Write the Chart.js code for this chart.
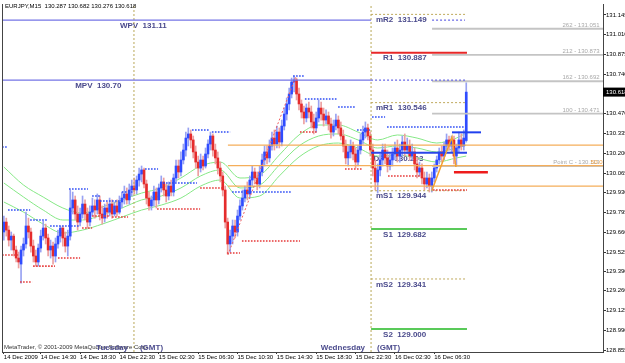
<!DOCTYPE html>
<html><head><meta charset="utf-8">
<script src="https://cdn.jsdelivr.net/npm/chart.js@4.4.0/dist/chart.umd.min.js"></script>
<style>html,body{margin:0;padding:0;background:#fff;overflow:hidden}canvas{display:block}</style>
</head><body>
<canvas id="c" width="625" height="363" style="width:625px;height:363px"></canvas>
<script>
const titleText = 'EURJPY,M15  130.287 130.682 130.276 130.618';
const copyrightText = 'MetaTrader, \u00a9 2001-2009 MetaQuotes Software Corp.';
const xTickBars = [0,15,31,47,63,79,95,111,127,143,159,175];
const xTickLabels = ['14 Dec 2009','14 Dec 14:30','14 Dec 18:30','14 Dec 22:30','15 Dec 02:30','15 Dec 06:30','15 Dec 10:30','15 Dec 14:30','15 Dec 18:30','15 Dec 22:30','16 Dec 02:30','16 Dec 06:30'];
const yTickValues = [131.145,131.010,130.875,130.740,130.470,130.335,130.200,130.065,129.930,129.795,129.660,129.525,129.390,129.260,129.125,128.990,128.855];
const dayBars = [52.9,149.3];
const dayNames = ['Tuesday','Wednesday'];
const lastPrice = 130.618;

const opens = [
129.662,129.730,129.675,129.607,129.634,129.539,129.484,129.443,129.539,129.580,
129.703,129.662,129.566,129.498,129.457,129.552,129.634,129.689,129.621,129.539,
129.566,129.498,129.580,129.634,129.689,129.621,129.566,129.634,129.826,129.881,
129.785,129.730,129.785,129.853,129.785,129.730,129.798,129.840,129.812,129.881,
129.785,129.757,129.826,129.798,129.853,129.785,129.840,129.798,129.867,129.894,
129.922,129.881,129.949,129.976,129.949,130.017,130.058,130.086,129.990,129.894,
129.840,129.881,129.935,129.881,129.963,130.004,129.949,129.908,129.976,129.935,
130.031,130.113,130.072,130.154,130.222,130.304,130.332,130.291,130.209,130.140,
130.099,130.154,130.113,130.195,130.263,130.318,130.222,130.168,130.099,130.045,
129.949,129.730,129.580,129.634,129.703,129.662,129.771,129.840,129.894,129.949,
129.922,130.017,130.072,130.031,129.990,130.072,130.154,130.209,130.168,130.250,
130.304,130.263,130.345,130.277,130.386,130.468,130.537,130.605,130.687,130.701,
130.605,130.537,130.482,130.441,130.509,130.482,130.414,130.373,130.441,130.509,
130.468,130.427,130.455,130.400,130.345,130.386,130.427,130.373,130.318,130.250,
130.168,130.209,130.250,130.195,130.140,130.222,130.291,130.345,130.373,130.318,
130.222,130.099,130.004,130.086,130.154,130.222,130.168,130.113,130.154,130.195,
130.236,130.181,130.222,130.277,130.222,130.250,130.181,130.209,130.127,130.072,
130.099,130.031,129.990,130.031,129.976,130.031,130.099,130.154,130.209,130.181,
130.250,130.291,130.250,130.291,130.181,130.236,130.291,130.250,130.287];
const highs = [
129.771,129.757,129.703,129.662,129.648,129.566,129.525,129.566,129.621,129.798,
129.757,129.689,129.607,129.539,129.580,129.675,129.737,129.716,129.648,129.607,
129.593,129.621,129.675,129.703,129.703,129.662,129.675,129.949,129.935,129.908,
129.840,129.826,129.908,129.881,129.826,129.840,129.894,129.881,129.922,129.908,
129.840,129.853,129.867,129.894,129.881,129.867,129.881,129.908,129.935,129.976,
129.963,129.990,130.017,130.031,130.045,130.099,130.113,130.099,130.017,129.935,
129.908,129.976,129.963,129.990,130.045,130.031,129.990,130.004,130.017,130.058,
130.154,130.154,130.209,130.263,130.345,130.373,130.359,130.318,130.250,130.181,
130.195,130.181,130.236,130.291,130.345,130.332,130.263,130.209,130.140,130.072,
129.976,129.757,129.675,129.744,129.744,129.812,129.881,129.949,129.976,130.004,
130.045,130.113,130.099,130.072,130.113,130.195,130.250,130.250,130.291,130.345,
130.359,130.386,130.373,130.427,130.509,130.578,130.646,130.714,130.728,130.714,
130.646,130.564,130.523,130.537,130.550,130.523,130.468,130.482,130.564,130.550,
130.509,130.496,130.482,130.441,130.427,130.468,130.455,130.414,130.359,130.291,
130.250,130.291,130.277,130.236,130.250,130.332,130.386,130.414,130.400,130.345,
130.263,130.154,130.127,130.195,130.263,130.263,130.222,130.195,130.236,130.277,
130.291,130.263,130.318,130.332,130.304,130.291,130.263,130.236,130.168,130.140,
130.127,130.072,130.072,130.058,130.072,130.127,130.181,130.236,130.250,130.277,
130.332,130.318,130.318,130.318,130.263,130.345,130.332,130.359,130.682];
const lows = [
129.607,129.634,129.566,129.539,129.498,129.457,129.416,129.313,129.498,129.552,
129.621,129.525,129.457,129.429,129.429,129.525,129.607,129.580,129.498,129.484,
129.443,129.457,129.552,129.593,129.566,129.525,129.498,129.607,129.785,129.744,
129.675,129.703,129.757,129.744,129.689,129.703,129.771,129.757,129.785,129.744,
129.716,129.730,129.757,129.771,129.757,129.771,129.771,129.785,129.826,129.853,
129.853,129.853,129.908,129.922,129.922,129.976,130.004,129.963,129.853,129.812,
129.812,129.840,129.826,129.853,129.935,129.908,129.867,129.881,129.908,129.908,
130.004,130.031,130.045,130.127,130.181,130.250,130.236,130.168,130.099,130.045,
130.072,130.086,130.099,130.168,130.222,130.181,130.127,130.058,130.004,129.908,
129.689,129.511,129.525,129.580,129.621,129.634,129.744,129.812,129.867,129.881,
129.894,129.976,129.990,129.949,129.963,130.045,130.113,130.127,130.140,130.222,
130.222,130.236,130.236,130.250,130.359,130.427,130.496,130.578,130.619,130.564,
130.496,130.441,130.400,130.414,130.441,130.373,130.332,130.345,130.414,130.427,
130.386,130.400,130.359,130.304,130.318,130.359,130.332,130.291,130.209,130.127,
130.113,130.168,130.154,130.099,130.113,130.195,130.263,130.304,130.291,130.181,
130.045,129.949,129.928,130.045,130.113,130.127,130.072,130.086,130.113,130.154,
130.140,130.140,130.181,130.181,130.195,130.154,130.154,130.086,130.031,130.045,
129.990,129.949,129.963,129.935,129.935,130.004,130.072,130.127,130.140,130.154,
130.222,130.222,130.209,130.127,130.113,130.209,130.222,130.222,130.276];
const closes = [
129.730,129.675,129.607,129.634,129.539,129.484,129.457,129.539,129.580,129.703,
129.662,129.566,129.498,129.457,129.552,129.634,129.689,129.621,129.539,129.566,
129.498,129.580,129.634,129.689,129.621,129.566,129.634,129.826,129.881,129.785,
129.730,129.785,129.853,129.785,129.730,129.798,129.840,129.812,129.881,129.785,
129.757,129.826,129.798,129.853,129.785,129.840,129.798,129.867,129.894,129.922,
129.881,129.949,129.976,129.949,130.017,130.058,130.086,129.990,129.894,129.840,
129.881,129.935,129.881,129.963,130.004,129.949,129.908,129.976,129.935,130.031,
130.113,130.072,130.154,130.222,130.304,130.332,130.291,130.209,130.140,130.099,
130.154,130.113,130.195,130.263,130.318,130.222,130.168,130.099,130.045,129.949,
129.730,129.580,129.634,129.703,129.662,129.771,129.840,129.894,129.949,129.922,
130.017,130.072,130.031,129.990,130.072,130.154,130.209,130.168,130.250,130.304,
130.263,130.345,130.277,130.386,130.468,130.537,130.605,130.687,130.701,130.605,
130.537,130.482,130.441,130.509,130.482,130.414,130.373,130.441,130.509,130.468,
130.427,130.455,130.400,130.345,130.386,130.427,130.373,130.318,130.250,130.168,
130.209,130.250,130.195,130.140,130.222,130.291,130.345,130.373,130.318,130.222,
130.099,130.004,130.086,130.154,130.222,130.168,130.113,130.154,130.195,130.236,
130.181,130.222,130.277,130.222,130.250,130.181,130.209,130.127,130.072,130.099,
130.031,129.990,130.031,129.976,130.031,130.099,130.154,130.209,130.181,130.250,
130.291,130.250,130.291,130.181,130.236,130.291,130.250,130.304,130.618];

const maBars = [0,8,16,24,32,40,48,56,64,72,80,88,96,104,112,120,128,136,144,152,160,168,176,184,188];
const maUpper = [130.106,129.983,129.901,129.826,129.792,129.833,129.881,129.928,129.963,130.031,130.113,130.140,130.031,130.051,130.188,130.325,130.393,130.393,130.345,130.291,130.325,130.304,130.270,130.304,130.338];
const maMiddle = [129.997,129.901,129.812,129.744,129.744,129.778,129.826,129.881,129.908,129.963,130.045,130.086,129.963,129.983,130.120,130.250,130.318,130.332,130.291,130.236,130.250,130.236,130.209,130.236,130.256];
const maLower = [129.867,129.798,129.716,129.655,129.675,129.716,129.764,129.812,129.846,129.894,129.976,130.017,129.894,129.908,130.045,130.174,130.250,130.270,130.236,130.181,130.188,130.168,130.140,130.168,130.181];

const wpvValue = 131.11;
const mpvValue = 130.70;
const pivotNames = ['mR2','R1','mR1','DPV','mS1','S1','mS2','S2'];
const pivotValues = [131.149,130.887,130.546,130.203,129.944,129.682,129.341,129.000];
const fiboNames = ['262','212','162','100','Point C'];
const fiboValues = [131.051,130.873,130.692,130.471,130.113];
const fiboPercent = '50.0';
const orangeLevels = [130.256,130.115,129.976];

const fractalHighStart = [-0.7,1.7,10.7,18.8,26.5,35.9,39.1,48,57.4,63.5,76.5,84.6,92.8,117.6,122.4,135.9,143.6,149.7,155.8];
const fractalHighEnd   = [1.7,10.7,18,31,34.2,39.1,47.2,52.5,62.7,78.5,83.8,92,117.2,122.4,135.4,142.8,148.9,155,187.5];
const fractalHighValue = [130.243,129.812,129.744,129.703,129.956,129.908,129.874,129.935,130.092,129.997,130.359,130.345,129.935,130.728,130.571,130.516,130.359,130.448,130.379];
const fractalLowStart = [-0.7,6.6,11.9,22,31.8,35.9,44,62.3,79.8,90.7,96.8,120.4,138.7,156.2,174.5];
const fractalLowEnd   = [5.8,11.5,20.8,31,35.9,43.2,50.5,79.8,88.7,96,120.4,127.7,145.6,170.4,188.3];
const fractalLowValue = [129.505,129.320,129.429,129.484,129.689,129.771,129.764,129.819,129.963,129.518,129.600,130.345,130.092,130.045,129.949];

const zigzagRedBars = [91.1,118.8];
const zigzagRedValues = [129.505,130.728];
const zigzagOrangeBars = [174.1,182.2,183.8];
const zigzagOrangeValues = [129.949,130.311,130.106];
const markRedValue = 130.070;
const markBlueValue = 130.343;

const FONT = "'Liberation Sans', Arial, sans-serif";
const Y_MIN = 128.842, Y_MAX = 131.220;
const isBull = i => closes[i] >= opens[i];
const idx = opens.map((_, i) => i);

function seg(points, color, width, dash, order, extra) {
  return Object.assign({type:'line', data:points, borderColor:color, borderWidth:width,
    borderDash:dash||[], pointRadius:0, pointHoverRadius:0, fill:false, tension:0, order:order}, extra||{});
}
const hl = (a, b, v) => [{x:a, y:v}, {x:b, y:v}];

const datasets = [];
// moving averages
[maUpper, maMiddle, maLower].forEach(arr => {
  datasets.push(seg(maBars.map((b,k)=>({x:b, y:arr[k]})), '#86e886', 1, [], 6, {cubicInterpolationMode:'monotone'}));
});
// candles
datasets.push({type:'bar', data: idx.map(i=>({x:i, y:[lows[i], highs[i]]})), barThickness:1, grouped:false,
  backgroundColor: c => isBull(c.dataIndex) ? '#98a2f2' : '#eda0a0', order:5});
datasets.push({type:'bar', data: idx.map(i=>({x:i, y:[opens[i], closes[i]]})), barThickness:2, grouped:false,
  backgroundColor: c => isBull(c.dataIndex) ? '#2f4cff' : '#e52c2c', order:4});
// day separators
dayBars.forEach(b => datasets.push(seg([{x:b,y:Y_MIN},{x:b,y:Y_MAX}], '#b9a858', 1, [2,2], 3)));
// orange levels
orangeLevels.forEach(v => datasets.push(seg(hl(91.1, 243.6, v), '#f5ae5a', 1.2, [], 3)));
// fibo levels
fiboValues.forEach(v => datasets.push(seg(hl(174.1, 243.6, v), '#c4c4c4', 1.8, [], 3)));
// weekly / monthly pivots
datasets.push(seg(hl(-0.75, 149.3, wpvValue), '#7474e6', 1.2, [], 2));
datasets.push(seg(hl(174.1, 187.5, wpvValue), '#6a6ae6', 1.2, [2,2], 2));
datasets.push(seg(hl(-0.75, 149.3, mpvValue), '#7474e6', 1.2, [], 2));
datasets.push(seg(hl(149.3, 187.5, mpvValue), '#6a6ae6', 1.2, [2,2], 2));
// daily pivots
const pivotStyle = n => n.startsWith('m') ? {c:'#bfa95c', w:1, d:[2,2], to:187.5, lx:151.3}
  : n === 'R1' ? {c:'#e82828', w:2, d:[], to:188.3, lx:154.2}
  : n === 'DPV' ? {c:'#2a46e8', w:2, d:[], to:188.3, lx:150.3}
  : {c:'#22b822', w:1.5, d:[], to:188.3, lx:154.2};
pivotNames.forEach((n,k) => { const s = pivotStyle(n); datasets.push(seg(hl(149.3, s.to, pivotValues[k]), s.c, s.w, s.d, 2)); });
// fractals
fractalHighValue.forEach((v,k) => datasets.push(seg(hl(fractalHighStart[k], fractalHighEnd[k], v), '#2f4df5', 1.6, [1.6,1.4], 1)));
fractalLowValue.forEach((v,k) => datasets.push(seg(hl(fractalLowStart[k], fractalLowEnd[k], v), '#e63a3a', 1.6, [1.6,1.4], 1)));
// zigzags
datasets.push(seg(zigzagRedBars.map((b,k)=>({x:b,y:zigzagRedValues[k]})), '#f06060', 1, [2,2], 1));
datasets.push(seg(zigzagOrangeBars.map((b,k)=>({x:b,y:zigzagOrangeValues[k]})), '#f2a030', 1.5, [], 1));
// short marks
datasets.push(seg(hl(183, 196.8, markRedValue), '#ee1c1c', 2.5, [], 1));
datasets.push(seg(hl(182.2, 194, markBlueValue), '#2040ee', 2, [], 1));

const overlay = {
  id:'overlay',
  beforeDatasetsDraw(chart) {
    const ctx = chart.ctx, xs = chart.scales.x, ys = chart.scales.y;
    ctx.save();
    ctx.textBaseline = 'middle';
    ctx.textAlign = 'left';
    ctx.fillStyle = '#4a4a8c';
    ctx.font = 'bold 8px ' + FONT;
    ctx.fillText('WPV  ' + wpvValue.toFixed(2), xs.getPixelForValue(47.2), ys.getPixelForValue(wpvValue) + 5.5);
    ctx.fillText('MPV  ' + mpvValue.toFixed(2), xs.getPixelForValue(29), ys.getPixelForValue(mpvValue) + 5.5);
    pivotNames.forEach((n,k) => {
      const s = pivotStyle(n);
      ctx.fillText(n + '  ' + pivotValues[k].toFixed(3), xs.getPixelForValue(s.lx), ys.getPixelForValue(pivotValues[k]) + 5.5);
    });
    ctx.font = '6px ' + FONT;
    ctx.textAlign = 'right';
    ctx.fillStyle = '#a8a8a8';
    fiboNames.forEach((n,k) => {
      ctx.fillText(n + ' - ' + fiboValues[k].toFixed(3), xs.getPixelForValue(242.2), ys.getPixelForValue(fiboValues[k]) - 3.5);
    });
    ctx.fillStyle = '#f0a040';
    ctx.fillText(fiboPercent, xs.getPixelForValue(243.4), ys.getPixelForValue(fiboValues[4]) - 4);
    ctx.restore();
  },
  afterDraw(chart) {
    const ctx = chart.ctx, ca = chart.chartArea, ys = chart.scales.y, xs = chart.scales.x;
    ctx.save();
    ctx.strokeStyle = '#444'; ctx.lineWidth = 1;
    ctx.beginPath(); ctx.moveTo(ca.left + 0.5, ca.top); ctx.lineTo(ca.left + 0.5, ca.bottom); ctx.stroke();
    ctx.textBaseline = 'middle'; ctx.textAlign = 'left';
    ctx.fillStyle = '#000'; ctx.font = '6px ' + FONT;
    ctx.fillText(titleText, 5, 6.5);
    ctx.fillStyle = '#333'; ctx.fillText(copyrightText, 4, 347);
    ctx.font = 'bold 8px ' + FONT; ctx.fillStyle = '#4c4c8e';
    dayBars.forEach((b,k) => {
      const px = xs.getPixelForValue(b);
      ctx.textAlign = 'right'; ctx.fillText(dayNames[k], px - 6, 348);
      ctx.textAlign = 'left'; ctx.fillText('(GMT)', px + 6, 348);
    });
    const py = ys.getPixelForValue(lastPrice);
    ctx.fillStyle = '#000'; ctx.fillRect(ca.right, py - 4.5, 625 - ca.right, 9);
    ctx.fillStyle = '#fff'; ctx.font = '6px ' + FONT; ctx.textAlign = 'left';
    ctx.fillText(lastPrice.toFixed(3), ca.right + 3, py + 0.5);
    ctx.restore();
  }
};

new Chart(document.getElementById('c'), {
  type:'bar',
  data:{datasets},
  plugins:[overlay],
  options:{
    responsive:false, animation:false, devicePixelRatio:1,
    layout:{padding:{left:2, top:4, right:0, bottom:0}},
    plugins:{legend:{display:false}, tooltip:{enabled:false}, title:{display:false}},
    events:[],
    scales:{
      x:{type:'linear', min:-0.75, max:243.6, offset:false,
        afterBuildTicks: s => { s.ticks = xTickBars.map(v => ({value:v})); },
        afterFit: s => { s.height = 11; },
        ticks:{autoSkip:false, maxRotation:0, minRotation:0, align:'start', padding:0,
          font:{family:FONT, size:6}, color:'#000', callback:(v,i) => xTickLabels[i]},
        grid:{drawOnChartArea:false, offset:false, tickLength:2, color:'#333'},
        border:{display:true, color:'#444'}},
      y:{type:'linear', position:'right', min:Y_MIN, max:Y_MAX,
        afterBuildTicks: s => { s.ticks = yTickValues.map(v => ({value:v})); },
        afterFit: s => { s.width = 22; },
        ticks:{autoSkip:false, padding:0, font:{family:FONT, size:6}, color:'#000', callback: v => Number(v).toFixed(3)},
        grid:{drawOnChartArea:false, tickLength:3, color:'#333'},
        border:{display:true, color:'#444'}}
    }
  }
});
</script>
</body></html>
